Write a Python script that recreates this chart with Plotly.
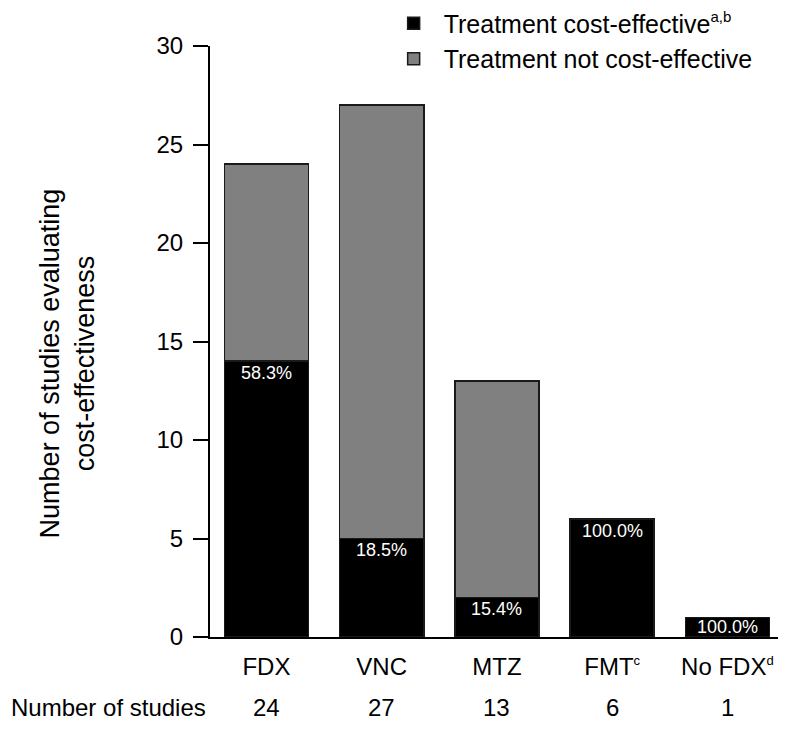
import plotly.graph_objects as go

categories = ["FDX", "VNC", "MTZ",
              "FMT<sup><span style='font-size:13px'>c</span></sup>",
              "No FDX<sup><span style='font-size:13px'>d</span></sup>"]
cost_effective = [14, 5, 2, 6, 1]
not_cost_effective = [10, 22, 11, 0, 0]
n_studies = [24, 27, 13, 6, 1]
pct_labels = ["58.3%", "18.5%", "15.4%", "100.0%", "100.0%"]
y_ticks = [0, 5, 10, 15, 20, 25, 30]

FONT = "Arial, Liberation Sans, sans-serif"
xs = list(range(len(categories)))

fig = go.Figure()
fig.add_trace(go.Bar(
    x=xs, y=cost_effective,
    name="Treatment cost-effective<sup><span style='font-size:15px'>a,b</span></sup>",
    marker=dict(color="#000000", line=dict(color="#1a1a1a", width=1.5)),
    width=0.73,
))
fig.add_trace(go.Bar(
    x=xs, y=[v if v > 0 else None for v in not_cost_effective],
    name="Treatment not cost-effective",
    marker=dict(color="#808080", line=dict(color="#1a1a1a", width=1.5)),
    width=0.73,
))

annotations = []
for i, (v, p) in enumerate(zip(cost_effective, pct_labels)):
    annotations.append(dict(x=i, y=max(v - 0.6, v / 2), xref="x", yref="y", text=p,
                            showarrow=False, yanchor="middle",
                            font=dict(family=FONT, size=18, color="white")))
for i, n in enumerate(n_studies):
    annotations.append(dict(x=i, y=-0.12, xref="x", yref="paper", text=str(n), showarrow=False,
                            yanchor="middle", font=dict(family=FONT, size=24, color="black")))
annotations.append(dict(x=-0.349, y=-0.12, xref="paper", yref="paper", text="Number of studies",
                        showarrow=False, xanchor="left", yanchor="middle",
                        font=dict(family=FONT, size=24, color="black")))
annotations.append(dict(x=-0.248, y=0.4636, xref="paper", yref="paper",
                        text="Number of studies evaluating<br>cost-effectiveness",
                        showarrow=False, textangle=-90, xanchor="center", yanchor="middle",
                        font=dict(family=FONT, size=27, color="black")))

fig.update_layout(
    barmode="stack",
    width=778, height=727,
    margin=dict(l=202, r=1, t=38, b=98, autoexpand=False),
    plot_bgcolor="white", paper_bgcolor="white",
    font=dict(family=FONT, size=24, color="black"),
    showlegend=True,
    legend=dict(x=0.302, y=1.077, xanchor="left", yanchor="top", orientation="v",
                font=dict(family=FONT, size=25, color="black"),
                itemwidth=50, bgcolor="rgba(0,0,0,0)", traceorder="normal"),
    annotations=annotations,
    xaxis=dict(range=[-0.49, 4.5], tickvals=xs, ticktext=categories, showgrid=False,
               showline=True, linecolor="black", linewidth=2, ticks="",
               ticklabelstandoff=7, zeroline=False, fixedrange=True),
    yaxis=dict(range=[0, 30], tickvals=y_ticks, showgrid=False, showline=True,
               linecolor="black", linewidth=2, ticks="outside", ticklen=15,
               tickwidth=1.5, tickcolor="black", ticklabelstandoff=5, zeroline=False),
)

fig.write_html("out.html")
